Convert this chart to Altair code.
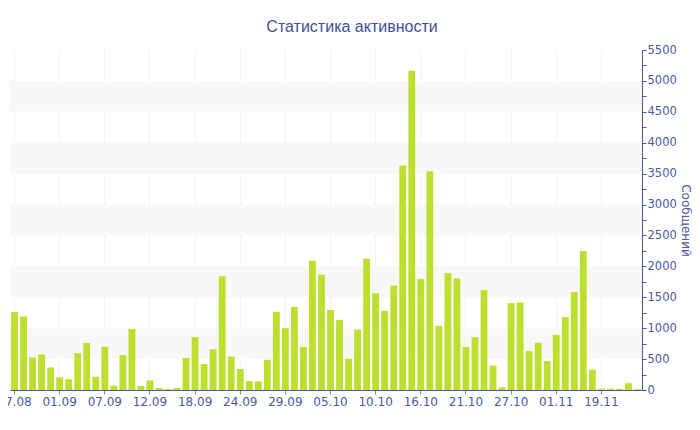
import altair as alt
import pandas as pd

tick_labels = ["27.08", "01.09", "07.09", "12.09", "18.09", "24.09", "29.09",
               "05.10", "10.10", "16.10", "21.10", "27.10", "01.11", "19.11"]

messages = [1260, 1190, 525, 575, 365, 205, 175, 595, 760, 215,
            700, 70, 565, 985, 65, 155, 32, 16, 32, 520,
            855, 420, 660, 1840, 540, 340, 145, 140, 490, 1265,
            1000, 1345, 695, 2090, 1865, 1295, 1135, 505, 975, 2125,
            1565, 1280, 1690, 3630, 5165, 1795, 3540, 1040, 1890, 1805,
            695, 855, 1615, 395, 43, 1405, 1415, 630, 765, 470,
            890, 1180, 1585, 2250, 330, 22, 20, 20, 110, 15]

band_lo = [500, 1500, 2500, 3500, 4500]
band_hi = [1000, 2000, 3000, 4000, 5000]

BLUE = "#4a5a9f"
TITLE_BLUE = "#3f5095"
PLOT_W = 632

df = pd.DataFrame({"idx": list(range(len(messages))), "msgs": messages})
bands = pd.DataFrame({"lo": band_lo, "hi": band_hi})

label_array = "[" + ",".join("'%s'" % t for t in tick_labels) + "]"

yscale = alt.Scale(domain=[0, 5500], nice=False, zero=True)

y_axis = alt.Axis(
    orient="right",
    title="Сообщений",
    titleFont="DejaVu Sans",
    titleFontSize=12,
    titleFontWeight="normal",
    titleColor=BLUE,
    titleAngle=90,
    titlePadding=2,
    values=list(range(0, 5501, 250)),
    format="d",
    labelExpr="datum.value % 500 === 0 ? datum.label : ''",
    labelOverlap=False,
    labelFont="DejaVu Sans",
    labelFontSize=11.5,
    labelColor=BLUE,
    labelPadding=1,
    tickSize=4,
    tickColor=BLUE,
    domainColor=BLUE,
    grid=False,
)

band_layer = alt.Chart(bands).mark_rect(color="#f8f8f8").encode(
    x=alt.value(0),
    x2=alt.value(PLOT_W),
    y=alt.Y("lo:Q", scale=yscale, axis=y_axis, title="Сообщений"),
    y2="hi:Q",
)

bars = alt.Chart(df).mark_bar(color="#bde030").encode(
    x=alt.X(
        "idx:O",
        scale=alt.Scale(paddingInner=0.24, paddingOuter=0.12),
        axis=alt.Axis(
            title=None,
            values=list(range(0, len(messages), 5)),
            labelExpr=label_array + "[datum.value / 5]",
            labelAngle=0,
            labelFont="DejaVu Sans",
            labelFontSize=12,
            labelColor=BLUE,
            labelPadding=2,
            labelOverlap=False,
            tickSize=4,
            tickColor="#8a8a8a",
            domainColor=BLUE,
            domainWidth=1,
            grid=True,
            gridColor="#f3f3f3",
            gridWidth=1,
            bandPosition=0.5,
        ),
    ),
    y=alt.Y("msgs:Q", scale=yscale, axis=y_axis, title="Сообщений"),
)

chart = alt.layer(band_layer, bars).properties(
    width=PLOT_W,
    height=340,
    autosize=alt.AutoSizeParams(type="none"),
    padding={"left": 2, "top": 42, "right": 50, "bottom": 28},
    title=alt.TitleParams(
        "Статистика активности",
        font="Liberation Sans",
        fontSize=16,
        fontWeight="normal",
        color=TITLE_BLUE,
        anchor="middle",
        frame="group",
        dx=26,
        offset=9,
    ),
).configure_view(stroke=None)

chart.save("out.html", embed_options={"renderer": "svg", "actions": False})
